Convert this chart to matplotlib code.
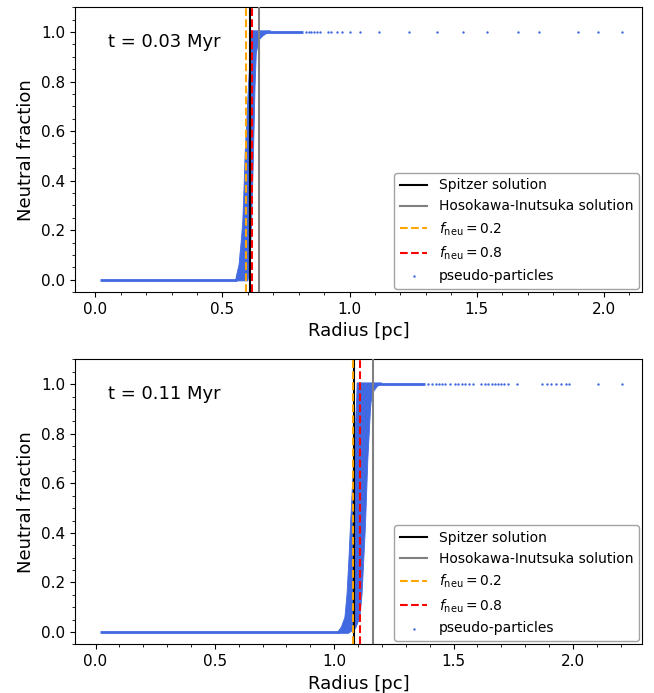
import matplotlib
matplotlib.use("Agg")
import matplotlib.pyplot as plt

# ---------------- data ----------------
time_labels = ["t = 0.03 Myr", "t = 0.11 Myr"]

# characteristic radii [pc]
spitzer_r = [0.609, 1.082]
hosokawa_r = [0.645, 1.164]
fneu02_r = [0.592, 1.078]
fneu08_r = [0.615, 1.107]

# dense neutral-fraction runs (fully ionised / fully neutral rows of particles)
zero_run_r = [[0.020, 0.556], [0.020, 1.020]]
zero_run_f = [[0.0, 0.0], [0.0, 0.0]]
one_run_r = [[0.614, 0.818], [1.096, 1.381]]
one_run_f = [[1.0, 1.0], [1.0, 1.0]]

# dense transition cloud outline (radius, neutral fraction)
band_r_top = [0.552, 0.556, 0.565, 0.569, 0.575, 0.580, 0.585, 0.589, 0.596, 0.602,
              0.607, 0.609, 0.612, 0.614, 0.614,
              0.690, 0.660, 0.645, 0.638, 0.633, 0.628, 0.622, 0.615, 0.610, 0.605,
              0.600, 0.552]
band_f_top = [0.000, 0.020, 0.060, 0.105, 0.170, 0.240, 0.380, 0.510, 0.650, 0.780,
              0.870, 0.915, 0.960, 0.990, 1.005,
              1.005, 0.985, 0.970, 0.940, 0.915, 0.780, 0.510, 0.240, 0.105, 0.030,
              -0.005, -0.005]
band_r_bot = [1.015, 1.030, 1.045, 1.054, 1.062, 1.068, 1.075, 1.082, 1.088, 1.092,
              1.095, 1.096,
              1.200, 1.180, 1.165, 1.155, 1.152, 1.141, 1.131, 1.117, 1.108, 1.090,
              1.060, 1.015]
band_f_bot = [0.000, 0.020, 0.060, 0.156, 0.300, 0.425, 0.560, 0.694, 0.800, 0.895,
              0.960, 1.005,
              1.005, 0.990, 0.970, 0.930, 0.895, 0.694, 0.425, 0.156, 0.060, 0.015,
              -0.005, -0.005]
band_r = [band_r_top, band_r_bot]
band_f = [band_f_top, band_f_bot]

# sparse individual pseudo-particles in the neutral region
sparse_r_top = [0.830, 0.840, 0.850, 0.860, 0.872, 0.885, 0.913, 0.925, 0.950, 0.970,
                1.000, 1.040, 1.116, 1.234, 1.344, 1.447, 1.540, 1.663, 1.746, 1.900,
                1.975, 2.070]
sparse_f_top = [1.0] * 22
sparse_r_bot = [1.395, 1.410, 1.425, 1.440, 1.452, 1.466, 1.487, 1.508, 1.520, 1.535,
                1.550, 1.565, 1.583, 1.614, 1.630, 1.645, 1.660, 1.672, 1.685, 1.697,
                1.710, 1.730, 1.767, 1.872, 1.890, 1.910, 1.930, 1.949, 1.970, 1.983,
                2.104, 2.208]
sparse_f_bot = [1.0] * 32
sparse_r = [sparse_r_top, sparse_r_bot]
sparse_f = [sparse_f_top, sparse_f_bot]

xlims = [(-0.08, 2.15), (-0.086, 2.29)]
yticks = [0.0, 0.2, 0.4, 0.6, 0.8, 1.0]
xticks = [0.0, 0.5, 1.0, 1.5, 2.0]

# ---------------- figure ----------------
blue = "royalblue"
fig = plt.figure(figsize=(6.54, 6.93), dpi=100)
positions = [[0.1147, 0.5786, 0.867, 0.4109], [0.1147, 0.0700, 0.867, 0.4115]]

for i in range(2):
    ax = fig.add_axes(positions[i])
    ax.fill(band_r[i], band_f[i], color=blue, lw=0.6, zorder=1)
    ax.plot(zero_run_r[i], zero_run_f[i], color=blue, lw=2.0, zorder=1,
            solid_capstyle="butt")
    ax.plot(one_run_r[i], one_run_f[i], color=blue, lw=2.0, zorder=1,
            solid_capstyle="butt")
    sc = ax.scatter(sparse_r[i], sparse_f[i], s=3, color=blue, marker="o",
                    linewidths=0, zorder=1, label="pseudo-particles")

    l1 = ax.axvline(spitzer_r[i], color="black", lw=1.5, label="Spitzer solution", zorder=3)
    l2 = ax.axvline(hosokawa_r[i], color="gray", lw=1.5,
                    label="Hosokawa-Inutsuka solution", zorder=3)
    l3 = ax.axvline(fneu02_r[i], color="orange", lw=1.5, ls="--",
                    label=r"$f_{\rm neu} = 0.2$", zorder=3)
    l4 = ax.axvline(fneu08_r[i], color="red", lw=1.5, ls="--",
                    label=r"$f_{\rm neu} = 0.8$", zorder=3)

    ax.set_xlim(*xlims[i])
    ax.set_ylim(-0.05, 1.10)
    ax.set_xticks(xticks)
    ax.set_yticks(yticks)
    ax.minorticks_on()
    ax.tick_params(labelsize=11)
    ax.set_xlabel("Radius [pc]", fontsize=13)
    ax.set_ylabel("Neutral fraction", fontsize=13)
    ax.text(0.058, 0.91, time_labels[i], transform=ax.transAxes, fontsize=13,
            va="top", ha="left")
    handles = [l1, l2, l3, l4, sc]
    ax.legend(handles=handles, labels=[h.get_label() for h in handles],
              loc="lower right", fontsize=10, borderaxespad=0.25, markerscale=1.0,
              edgecolor="0.55")

fig.savefig("out.png", dpi=100)
